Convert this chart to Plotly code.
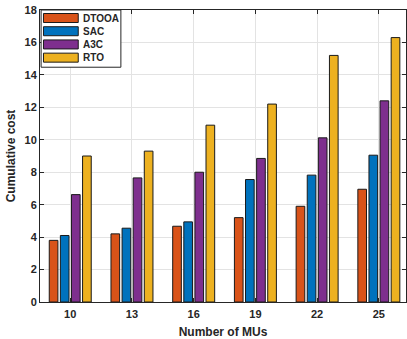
import plotly.graph_objects as go

# Cumulative cost per scheme vs. number of mobile users
mu_counts = ["10", "13", "16", "19", "22", "25"]
schemes = ["DTOOA", "SAC", "A3C", "RTO"]
dtooa = [3.8, 4.2, 4.67, 5.2, 5.9, 6.95]
sac = [4.1, 4.55, 4.94, 7.55, 7.82, 9.05]
a3c = [6.62, 7.65, 8.0, 8.85, 10.12, 12.4]
rto = [9.0, 9.3, 10.9, 12.2, 15.2, 16.3]
series = [dtooa, sac, a3c, rto]
y_ticks = [0, 2, 4, 6, 8, 10, 12, 14, 16, 18]

colors = ["#D95319", "#0072BD", "#7E2F8E", "#EDB120"]
axis_col = "#262626"
grid_col = "#e3e3e3"
font_family = "Liberation Sans, Arial, Helvetica, sans-serif"

fig = go.Figure()
for name, vals, col in zip(schemes, series, colors):
    fig.add_trace(go.Bar(
        x=mu_counts, y=vals, name=name,
        marker=dict(color=col, line=dict(color="#1a1a1a", width=1)),
        showlegend=False,
    ))

# Boxed legend in the upper-left corner with wide colour swatches
lx0, lx1, ly1 = 0.003, 0.221, 1.0
row_h = 13.2 / 291.7
fig.add_shape(type="rect", xref="paper", yref="paper",
              x0=lx0, x1=lx1, y0=ly1 - 4 * row_h - 0.015, y1=ly1,
              line=dict(color=axis_col, width=1), fillcolor="white", layer="above")
for i, (name, col) in enumerate(zip(schemes, colors)):
    yc = ly1 - (8.0 / 291.7) - i * row_h
    fig.add_shape(type="rect", xref="paper", yref="paper",
                  x0=0.0095, x1=0.1045, y0=yc - 4.5 / 291.7, y1=yc + 4.5 / 291.7,
                  line=dict(color="#1a1a1a", width=1), fillcolor=col, layer="above")
    fig.add_annotation(xref="paper", yref="paper", x=0.112, y=yc,
                       text=name, showarrow=False, xanchor="left", yanchor="middle",
                       font=dict(family=font_family, size=10, color=axis_col, weight="bold"))

fig.update_layout(
    width=407, height=339,
    margin=dict(l=40, r=1, t=10, b=37),
    paper_bgcolor="white", plot_bgcolor="white",
    barmode="group", bargap=0.28, bargroupgap=0.22,
    font=dict(family=font_family, color=axis_col, weight="bold"),
    xaxis=dict(
        range=[-0.49, 5.44],
        title=dict(text="Number of MUs", font=dict(size=12, weight="bold"), standoff=9),
        tickfont=dict(size=11, weight="bold"), ticklabelstandoff=2,
        ticks="inside", ticklen=4, tickcolor=axis_col,
        showline=True, linecolor=axis_col, linewidth=1, mirror="ticks",
        showgrid=True, gridcolor=grid_col, gridwidth=1,
    ),
    yaxis=dict(
        range=[0, 18], tickvals=y_ticks,
        title=dict(text="Cumulative cost", font=dict(size=12, weight="bold"), standoff=6),
        tickfont=dict(size=11, weight="bold"),
        ticks="inside", ticklen=4, tickcolor=axis_col,
        showline=True, linecolor=axis_col, linewidth=1, mirror="ticks",
        showgrid=True, gridcolor=grid_col, gridwidth=1, zeroline=False,
    ),
)

fig.write_html("out.html")
